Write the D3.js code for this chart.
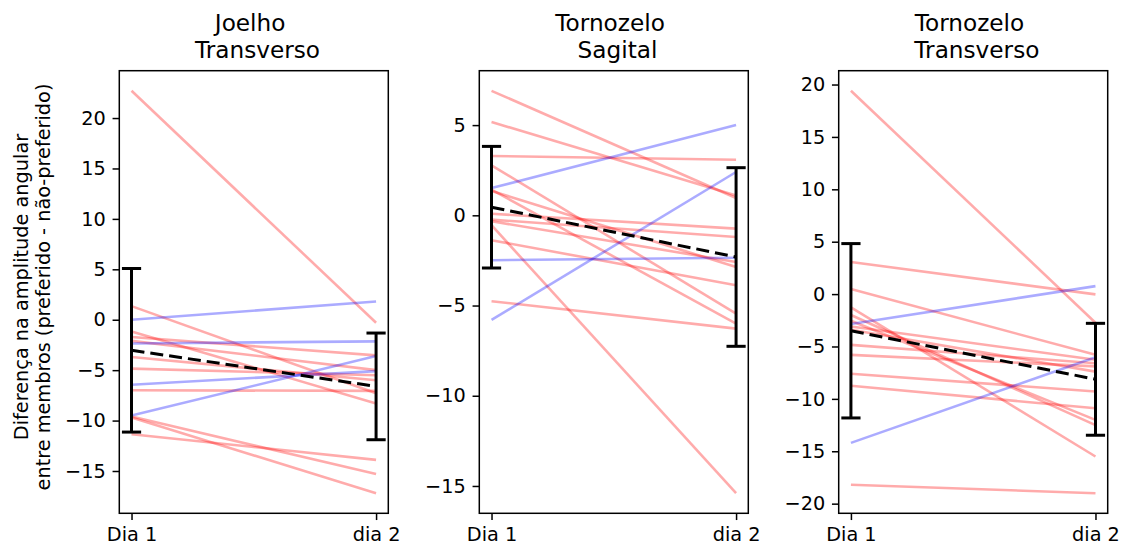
<!DOCTYPE html>
<html lang="pt">
<head>
<meta charset="UTF-8">
<title>Diferença entre membros</title>
<script src="https://cdn.jsdelivr.net/npm/d3@7"></script>
<style>
    body { margin: 0; background: #fff; }
    svg { display: block; font-family: "DejaVu Sans", sans-serif; }
    .tick text { font-size: 19.3px; fill: #000; }
    .tick line { stroke: #000; stroke-width: 1.5; }
    .title { font-size: 23.2px; white-space: pre; }
    .ylabel { font-size: 19.3px; }
</style>
</head>
<body>
<svg width="1122" height="545"></svg>
<script>
    // day labels
    var days = ["Dia 1", "dia 2"];

    // Joelho Transverso
    var joelhoDia1 = [22.7, 1.35, -1.16, -1.72, -2.1, -3.7, -4.85, -7.0, -9.6, -9.7, -11.35, 0.0, -2.35, -6.44, -9.5];
    var joelhoDia2 = [-0.3, -7.3, -8.3, -3.53, -5.0, -6.0, -5.5, -7.05, -15.3, -17.2, -13.9, 1.81, -2.15, -5.1, -3.6];
    var joelhoMean = [-3.03, -6.61];
    var joelhoSd = [8.11, 5.29];

    // Tornozelo Sagital
    var sagitalDia1 = [6.9, 5.17, 3.29, 2.77, 1.42, 1.35, 0.09, -0.24, -0.33, -0.55, -1.38, -4.76, 1.51, -2.49, -5.8];
    var sagitalDia2 = [0.96, 1.1, 3.08, -5.45, -6.0, -2.86, -0.74, -1.2, -2.59, -15.4, -3.88, -6.28, 5.0, -2.35, 2.4];
    var sagitalMean = [0.45, -2.31];
    var sagitalSd = [3.37, 4.95];

    // Tornozelo Transverso
    var tornDia1 = [19.4, 3.07, 0.48, -1.27, -2.0, -2.55, -3.1, -3.4, -4.85, -5.8, -7.6, -8.75, -18.2, -2.85, -14.2];
    var tornDia2 = [-2.73, -0.03, -5.8, -15.5, -12.5, -12.0, -6.27, -7.4, -6.6, -6.9, -9.3, -10.9, -19.0, 0.76, -6.02];
    var tornMean = [-3.5, -8.13];
    var tornSd = [8.32, 5.34];

    var titles = [["Joelho ", " Transverso"], ["Tornozelo ", " Sagital"], ["Tornozelo ", " Transverso"]];
    var yTicks = [
        [-15, -10, -5, 0, 5, 10, 15, 20],
        [-15, -10, -5, 0, 5],
        [-20, -15, -10, -5, 0, 5, 10, 15, 20]
    ];

    var panels = [
        {d1: joelhoDia1, d2: joelhoDia2, mean: joelhoMean, sd: joelhoSd},
        {d1: sagitalDia1, d2: sagitalDia2, mean: sagitalMean, sd: sagitalSd},
        {d1: tornDia1, d2: tornDia2, mean: tornMean, sd: tornSd}
    ];

    var svg = d3.select("svg");
    var lefts = [119.3, 479.3, 838.7];
    var axW = 269, axTop = 70.7, axBottom = 513.3;
    var tickLen = 6.75, tickPad = 6.75;

    panels.forEach(function(p, i) {
        var g = svg.append("g").attr("transform", "translate(" + lefts[i] + ",0)");

        // matplotlib-like autoscale with 5% margins
        var lo = d3.min(p.d1.concat(p.d2, p.mean.map(function(m, k) { return m - p.sd[k]; })));
        var hi = d3.max(p.d1.concat(p.d2, p.mean.map(function(m, k) { return m + p.sd[k]; })));
        var pad = (hi - lo) * 0.05;

        var x = d3.scaleLinear().domain([-0.05, 1.05]).range([0, axW]);
        var y = d3.scaleLinear().domain([lo - pad, hi + pad]).range([axBottom, axTop]);

        // subject lines
        var pairs = p.d1.map(function(v, k) { return [v, p.d2[k]]; });
        g.selectAll("line.subj")
            .data(pairs)
            .enter()
            .append("line")
            .attr("class", "subj")
            .attr("x1", x(0))
            .attr("x2", x(1))
            .attr("y1", function(d) { return y(d[0]); })
            .attr("y2", function(d) { return y(d[1]); })
            .attr("stroke", function(d) { return d[1] > d[0] ? "#0000ff" : "#ff0000"; })
            .attr("stroke-opacity", 0.33)
            .attr("stroke-width", 2.6);

        // mean line
        g.append("line")
            .attr("x1", x(0)).attr("x2", x(1))
            .attr("y1", y(p.mean[0])).attr("y2", y(p.mean[1]))
            .attr("stroke", "#000")
            .attr("stroke-width", 3)
            .attr("stroke-dasharray", "13,6");

        // error bars
        var eb = g.selectAll("g.eb")
            .data([0, 1])
            .enter()
            .append("g")
            .attr("class", "eb");
        eb.append("line")
            .attr("x1", function(d) { return x(d); })
            .attr("x2", function(d) { return x(d); })
            .attr("y1", function(d) { return y(p.mean[d] - p.sd[d]); })
            .attr("y2", function(d) { return y(p.mean[d] + p.sd[d]); })
            .attr("stroke", "#000").attr("stroke-width", 3);
        [-1, 1].forEach(function(s) {
            eb.append("line")
                .attr("x1", function(d) { return x(d) - 9.6; })
                .attr("x2", function(d) { return x(d) + 9.6; })
                .attr("y1", function(d) { return y(p.mean[d] + s * p.sd[d]); })
                .attr("y2", function(d) { return y(p.mean[d] + s * p.sd[d]); })
                .attr("stroke", "#000").attr("stroke-width", 3);
        });

        // axes
        var yAxis = g.append("g")
            .call(d3.axisLeft(y).tickValues(yTicks[i]).tickFormat(d3.format("d"))
                .tickSize(tickLen).tickPadding(tickPad));
        yAxis.select(".domain").remove();

        var xAxis = g.append("g")
            .attr("transform", "translate(0," + axBottom + ")")
            .call(d3.axisBottom(x).tickValues([0, 1]).tickFormat(function(d) { return days[d]; })
                .tickSize(tickLen).tickPadding(tickPad));
        xAxis.select(".domain").remove();
        xAxis.selectAll(".tick text").attr("dy", "0.72em");

        g.selectAll(".tick text").attr("font-family", "DejaVu Sans");

        // frame
        g.append("rect")
            .attr("x", 0).attr("y", axTop)
            .attr("width", axW).attr("height", axBottom - axTop)
            .attr("fill", "none")
            .attr("stroke", "#000")
            .attr("stroke-width", 1.5);

        // title
        var t = g.append("text")
            .attr("class", "title")
            .attr("text-anchor", "middle")
            .attr("xml:space", "preserve");
        t.append("tspan").attr("x", axW / 2).attr("y", 30.8).text(titles[i][0]);
        t.append("tspan").attr("x", axW / 2).attr("y", 58.3).text(titles[i][1]);
    });

    // y label
    var yl = svg.append("text")
        .attr("class", "ylabel")
        .attr("text-anchor", "middle")
        .attr("transform", "translate(0,287) rotate(-90)");
    yl.append("tspan").attr("x", 0).attr("y", 27.5).text("Diferença na amplitude angular");
    yl.append("tspan").attr("x", 0).attr("y", 49.5).text("entre membros (preferido - não-preferido)");
</script>
</body>
</html>
